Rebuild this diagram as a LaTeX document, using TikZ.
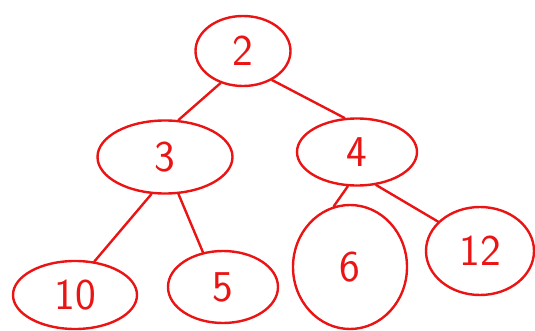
\documentclass[tikz,border=0pt]{standalone}
\usepackage{fontspec}
\setmainfont{DejaVu Sans}
\usetikzlibrary{shapes.geometric}
\definecolor{pen}{RGB}{235,20,20}
\begin{document}
\begin{tikzpicture}[x=1pt,y=1pt,
  bubble/.style={ellipse,draw=pen,line width=2.4pt,inner sep=0pt,text=pen,font=\fontsize{44}{46}\selectfont\sffamily},
  edge/.style={draw=pen,line width=2.4pt,line cap=round}]
\useasboundingbox (0,0) rectangle (535,-331);
\node[bubble,minimum width=95pt,minimum height=70pt] (n2) at (243,-51) {2};
\node[bubble,minimum width=135pt,minimum height=73pt] (n3) at (165,-157) {3};
\node[bubble,minimum width=120pt,minimum height=67pt] (n4) at (357,-152) {4};
\node[bubble,minimum width=124pt,minimum height=68pt] (n10) at (75,-295) {10};
\node[bubble,minimum width=110pt,minimum height=72pt] (n5) at (223,-287) {5};
\node[bubble,minimum width=114pt,minimum height=124pt] (n6) at (350,-267) {6};
\node[bubble,minimum width=108pt,minimum height=88pt] (n12) at (480,-251) {12};
\draw[edge] (n2.235) -- (n3.70);
\draw[edge] (n2.315) -- (n4.110);
\draw[edge] (n3.250) -- (n10.60);
\draw[edge] (n3.290) -- (n5.120);
\draw[edge] (n4.255) -- (n6.105);
\draw[edge] (n4.300) -- (n12.145);
\end{tikzpicture}
\end{document}
